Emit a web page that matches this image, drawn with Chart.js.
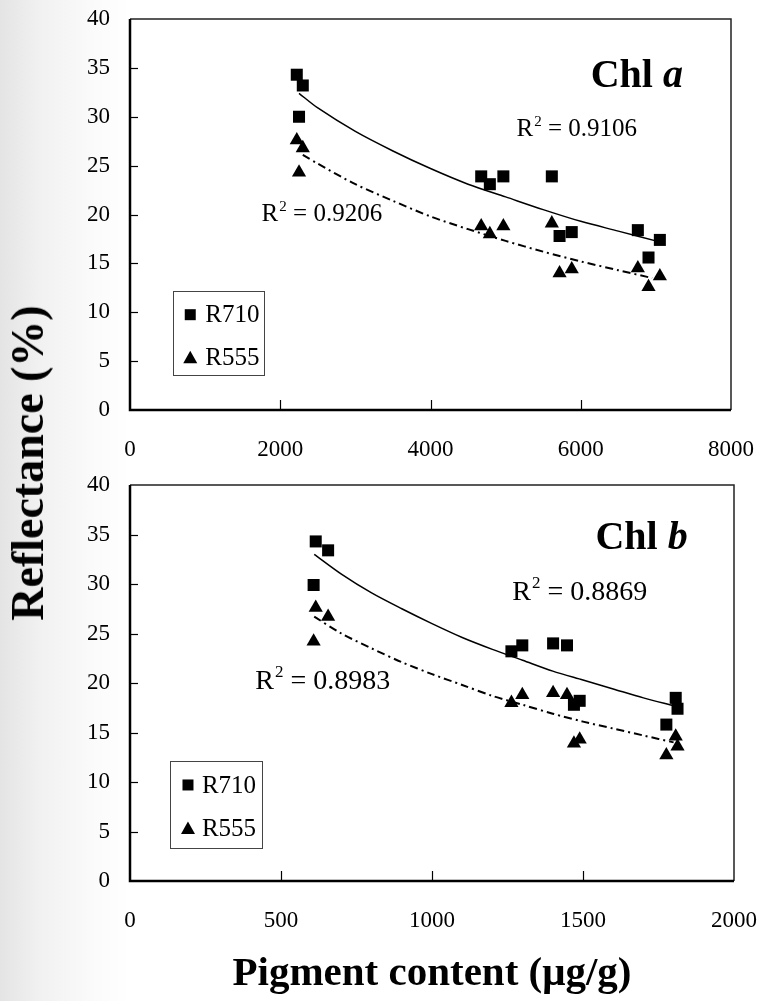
<!DOCTYPE html>
<html><head><meta charset="utf-8">
<script src="https://cdn.jsdelivr.net/npm/chart.js@4.4.1/dist/chart.umd.min.js"></script>
<style>
html,body{margin:0;padding:0;}
body{width:759px;height:1001px;position:relative;overflow:hidden;
 background:linear-gradient(to right,#e4e4e4 0px,#f1f1f1 40px,#fafafa 90px,#ffffff 130px);}
canvas{position:absolute;left:0;}
#c1{top:0;}
#c2{top:470px;}
#ytitle{position:absolute;left:28px;top:463px;transform:translate(-50%,-50%) rotate(-90deg);
 font:bold 46px "Liberation Serif","Times New Roman",serif;white-space:nowrap;line-height:1;color:#000;}
</style></head>
<body>
<canvas id="c1" width="759" height="470"></canvas>
<canvas id="c2" width="759" height="531"></canvas>
<div id="ytitle">Reflectance (%)</div>
<script>
// ---------- data ----------
const seriesNames = ['R710', 'R555'];

// Chl a panel
const chlA_x    = [2220, 2300, 2250, 4675, 4790, 4970, 5615, 5718, 5880, 6760, 6902, 7053];
const chlA_R710 = [34.3, 33.2, 30.0, 23.9, 23.1, 23.9, 23.9, 17.8, 18.2, 18.4, 15.6, 17.4];
const chlA_R555 = [27.6, 26.8, 24.3, 18.8, 18.0, 18.8, 19.1, 14.0, 14.4, 14.5, 12.6, 13.7];
const chlA_fit710_x = [2250, 2500, 3000, 3500, 4000, 4500, 5000, 5500, 6000, 6500, 7050];
const chlA_fit710   = [32.4, 30.9, 28.5, 26.5, 24.7, 23.1, 21.8, 20.5, 19.3, 18.3, 17.2];
const chlA_fit555_x = [2300, 2500, 3000, 3500, 4000, 4500, 5000, 5500, 6000, 6500, 6950];
const chlA_fit555   = [26.1, 25.2, 23.1, 21.4, 19.8, 18.5, 17.3, 16.2, 15.2, 14.3, 13.5];

// Chl b panel
const chlB_x    = [615, 656, 608, 1263, 1299, 1401, 1447, 1470, 1489, 1807, 1776, 1813];
const chlB_R710 = [34.3, 33.4, 29.9, 23.2, 23.8, 24.0, 23.8, 17.8, 18.2, 18.5, 15.8, 17.4];
const chlB_R555 = [27.6, 26.7, 24.2, 18.0, 18.8, 19.0, 18.8, 13.9, 14.3, 14.6, 12.7, 13.6];
const chlB_fit_x  = [610, 700, 800, 900, 1000, 1100, 1200, 1300, 1400, 1500, 1600, 1700, 1800];
const chlB_fit710 = [33.0, 31.0, 29.1, 27.5, 26.0, 24.6, 23.4, 22.3, 21.2, 20.3, 19.4, 18.5, 17.7];
const chlB_fit555 = [26.7, 25.0, 23.5, 22.1, 20.9, 19.8, 18.7, 17.8, 16.9, 16.1, 15.4, 14.7, 14.0];

const r2A = ['0.9106', '0.9206'];
const r2B = ['0.8869', '0.8983'];
const xTitle = 'Pigment content (μg/g)';

// ---------- helpers ----------
const FONT = '"Liberation Serif", "Times New Roman", serif';
const pts = (xs, ys) => xs.map((x, i) => ({x: x, y: ys[i]}));

function drawMarker(ctx, shape, x, y) {
  ctx.beginPath();
  if (shape === 'rect') {
    ctx.rect(x - 5.5, y - 5.5, 11, 11);
  } else {
    ctx.moveTo(x, y - 7); ctx.lineTo(x + 7, y + 5.5); ctx.lineTo(x - 7, y + 5.5); ctx.closePath();
  }
  ctx.fill();
}

const panelPlugin = {
  id: 'panel',
  afterDraw(chart, args, o) {
    const ctx = chart.ctx;
    const xs = chart.scales.x, ys = chart.scales.y;
    const {left, right, top, bottom} = chart.chartArea;
    const X = v => xs.getPixelForValue(v), Y = v => ys.getPixelForValue(v);
    ctx.save();
    ctx.strokeStyle = '#000';
    ctx.fillStyle = '#000';
    // inner tick marks
    ctx.lineWidth = 1.2;
    xs.ticks.forEach(t => {
      if (t.value > xs.min && t.value < xs.max) {
        const p = Math.round(X(t.value)) + 0.5;
        ctx.beginPath(); ctx.moveTo(p, bottom); ctx.lineTo(p, bottom - 10); ctx.stroke();
      }
    });
    ys.ticks.forEach(t => {
      if (t.value > ys.min && t.value < ys.max) {
        const p = Math.round(Y(t.value)) + 0.5;
        ctx.beginPath(); ctx.moveTo(left, p); ctx.lineTo(left + 8, p); ctx.stroke();
      }
    });
    // frame
    ctx.strokeStyle = '#222';
    ctx.lineWidth = 1.5;
    ctx.beginPath(); ctx.moveTo(left, top); ctx.lineTo(right, top); ctx.lineTo(right, bottom); ctx.stroke();
    ctx.strokeStyle = '#000';
    ctx.lineWidth = 2.5;
    ctx.beginPath(); ctx.moveTo(left, top); ctx.lineTo(left, bottom); ctx.lineTo(right, bottom); ctx.stroke();

    // panel label (Chl a / Chl b)
    ctx.textAlign = 'left'; ctx.textBaseline = 'alphabetic';
    const L = o.label;
    ctx.font = 'bold ' + L.size + 'px ' + FONT;
    ctx.fillText(L.text, X(L.x), Y(L.y));
    const w0 = ctx.measureText(L.text).width;
    ctx.font = 'italic bold ' + L.size + 'px ' + FONT;
    ctx.fillText(L.ital, X(L.x) + w0, Y(L.y));

    // R^2 labels
    o.r2.forEach(r => {
      const x = X(r.x), y = Y(r.y);
      ctx.font = r.size + 'px ' + FONT;
      ctx.fillText('R', x, y);
      let w = ctx.measureText('R').width + 1;
      ctx.font = Math.round(r.size * 0.6) + 'px ' + FONT;
      ctx.fillText('2', x + w, y - r.size * 0.42);
      w += ctx.measureText('2').width;
      ctx.font = r.size + 'px ' + FONT;
      ctx.fillText(' = ' + r.text, x + w, y);
    });

    // legend box
    const G = o.legend;
    ctx.strokeStyle = '#444';
    ctx.lineWidth = 1;
    const bx0 = Math.round(X(G.x0)) + 0.5, bx1 = Math.round(X(G.x1)) + 0.5;
    const by0 = Math.round(Y(G.y0)) + 0.5, by1 = Math.round(Y(G.y1)) + 0.5;
    ctx.strokeRect(bx0, by0, bx1 - bx0, by1 - by0);
    ctx.font = G.size + 'px ' + FONT;
    ctx.textBaseline = 'middle';
    const items = chart.data.datasets.filter(d => d.legendShape);
    items.forEach((d, i) => {
      const yy = Y(G.rows[i]);
      drawMarker(ctx, d.legendShape, X(G.markerX), yy);
      ctx.fillText(d.label, X(G.textX), yy + 1);
    });
    ctx.restore();
  }
};

function makeConfig(p) {
  return {
    type: 'scatter',
    data: {
      datasets: [
        {label: seriesNames[0], legendShape: 'rect', data: pts(p.x, p.r710), pointStyle: 'rect',
         pointRadius: 8.5, pointBorderWidth: 0, backgroundColor: '#000', borderColor: '#000', order: 0},
        {label: seriesNames[1], legendShape: 'triangle', data: pts(p.x, p.r555), pointStyle: 'triangle',
         pointRadius: 8.2, pointBorderWidth: 0, backgroundColor: '#000', borderColor: '#000', order: 0},
        {label: seriesNames[0] + ' fit', data: pts(p.fit710x, p.fit710), showLine: true, pointRadius: 0,
         borderColor: '#000', borderWidth: 1.5, tension: 0.3, order: 1},
        {label: seriesNames[1] + ' fit', data: pts(p.fit555x, p.fit555), showLine: true, pointRadius: 0,
         borderColor: '#000', borderWidth: 2, borderDash: [8, 4, 2, 4], tension: 0.3, order: 1}
      ]
    },
    options: {
      responsive: false,
      animation: false,
      devicePixelRatio: 1,
      events: [],
      layout: {padding: p.padding},
      plugins: {
        legend: {display: false},
        tooltip: {enabled: false},
        panel: p.panel
      },
      scales: {
        x: {
          type: 'linear', min: 0, max: p.xmax,
          ticks: {stepSize: p.xstep, padding: 0, color: '#000', font: {family: FONT, size: 23},
                  maxRotation: 0, autoSkip: false, callback: v => String(v)},
          grid: {display: true, drawOnChartArea: false, drawTicks: true, tickLength: 26,
                 color: 'rgba(0,0,0,0)', tickColor: 'rgba(0,0,0,0)'},
          border: {display: false},
          title: p.title,
          afterFit: s => { s.height = p.xh; }
        },
        y: {
          type: 'linear', min: 0, max: 40,
          ticks: {stepSize: 5, padding: 0, color: '#000', font: {family: FONT, size: 23},
                  callback: v => String(v)},
          grid: {display: true, drawOnChartArea: false, drawTicks: true, tickLength: 20,
                 color: 'rgba(0,0,0,0)', tickColor: 'rgba(0,0,0,0)'},
          border: {display: false},
          afterFit: s => { s.width = 130; }
        }
      }
    },
    plugins: [panelPlugin]
  };
}

new Chart(document.getElementById('c1'), makeConfig({
  x: chlA_x, r710: chlA_R710, r555: chlA_R555,
  fit710x: chlA_fit710_x, fit710: chlA_fit710, fit555x: chlA_fit555_x, fit555: chlA_fit555,
  xmax: 8000, xstep: 2000, xh: 60,
  padding: {left: 0, right: 28, top: 19, bottom: 0},
  title: {display: false},
  panel: {
    label: {text: 'Chl ', ital: 'a', x: 6132, y: 33.0, size: 40},
    r2: [{x: 5145, y: 28.0, text: r2A[0], size: 25}, {x: 1752, y: 19.3, text: r2A[1], size: 25}],
    legend: {x0: 575, x1: 1778, y0: 12.2, y1: 3.6, rows: [9.75, 5.35], markerX: 802, textX: 1003, size: 25}
  }
}));

new Chart(document.getElementById('c2'), makeConfig({
  x: chlB_x, r710: chlB_R710, r555: chlB_R555,
  fit710x: chlB_fit_x, fit710: chlB_fit710, fit555x: chlB_fit_x, fit555: chlB_fit555,
  xmax: 2000, xstep: 500, xh: 120,
  padding: {left: 0, right: 25, top: 15, bottom: 0},
  title: {display: true, text: xTitle, color: '#000', font: {family: FONT, size: 41, weight: 'bold'}, padding: {top: 0, bottom: 2}},
  panel: {
    label: {text: 'Chl ', ital: 'b', x: 1541, y: 33.5, size: 40},
    r2: [{x: 1266, y: 28.4, text: r2B[0], size: 28}, {x: 415, y: 19.4, text: r2B[1], size: 28}],
    legend: {x0: 131, x1: 437, y0: 12.1, y1: 3.35, rows: [9.7, 5.3], markerX: 192, textX: 238, size: 25}
  }
}));
</script>
</body></html>
